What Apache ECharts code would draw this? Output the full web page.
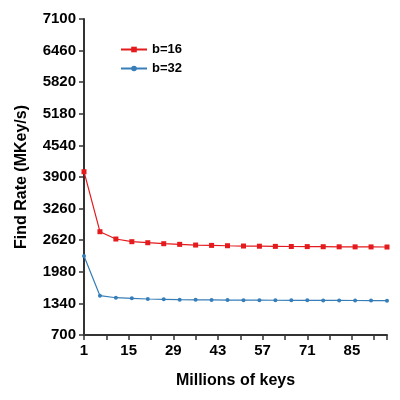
<!DOCTYPE html><html><head><meta charset="utf-8"><script src="https://cdn.jsdelivr.net/npm/echarts@6/dist/echarts.min.js"></script></head><body style="margin:0"><div id="c" style="width:400px;height:400px"></div><script>
const xs=[1,6,11,16,21,26,31,36,41,46,51,56,61,66,71,76,81,86,91,96];
const b16=[4007,2792,2644,2590,2569,2549,2536,2522,2515,2508,2502,2498,2495,2492,2490,2488,2486,2485,2484,2482];
const b32=[2300,1496,1455,1443,1429,1422,1415,1412,1410,1408,1406,1405,1404,1403,1402,1401,1400,1399,1398,1395];
const yTicks=[700,1340,1980,2620,3260,3900,4540,5180,5820,6460,7100];
const c=echarts.init(document.getElementById('c'));
const lab={color:'#000',fontWeight:'bold',fontSize:15,fontFamily:'Liberation Sans'};
c.setOption({animation:false,
grid:{left:84,right:13,top:19,bottom:65},
legend:{orient:'vertical',left:115,top:38,itemWidth:26,itemHeight:7,itemGap:6,textStyle:{fontWeight:'bold',fontSize:13,color:'#000'},data:['b=16','b=32']},
xAxis:{type:'value',min:1,max:96,interval:7,name:'Millions of keys',nameLocation:'middle',nameGap:38,nameTextStyle:{...lab,fontSize:16},
axisLine:{lineStyle:{color:'#333',width:2}},axisTick:{lineStyle:{color:'#333',width:1.5}},splitLine:{show:false},
axisLabel:{...lab,formatter:v=>((v-1)%14===0&&v<96)?String(v):''}},
yAxis:{type:'value',min:700,max:7100,interval:640,name:'Find Rate (MKey/s)',nameLocation:'middle',nameGap:54,nameTextStyle:{...lab,fontSize:16},
axisLine:{show:true,lineStyle:{color:'#333',width:2}},axisTick:{show:true,lineStyle:{color:'#333',width:1.5}},splitLine:{show:false},axisLabel:{...lab,formatter:v=>String(v)}},
series:[
{name:'b=16',type:'line',data:xs.map((x,i)=>[x,b16[i]]),symbol:'rect',symbolSize:5,color:'#e41a1c',lineStyle:{width:1.2}},
{name:'b=32',type:'line',data:xs.map((x,i)=>[x,b32[i]]),symbol:'circle',symbolSize:4,color:'#377eb8',lineStyle:{width:1.2}}]});
</script></body></html>
